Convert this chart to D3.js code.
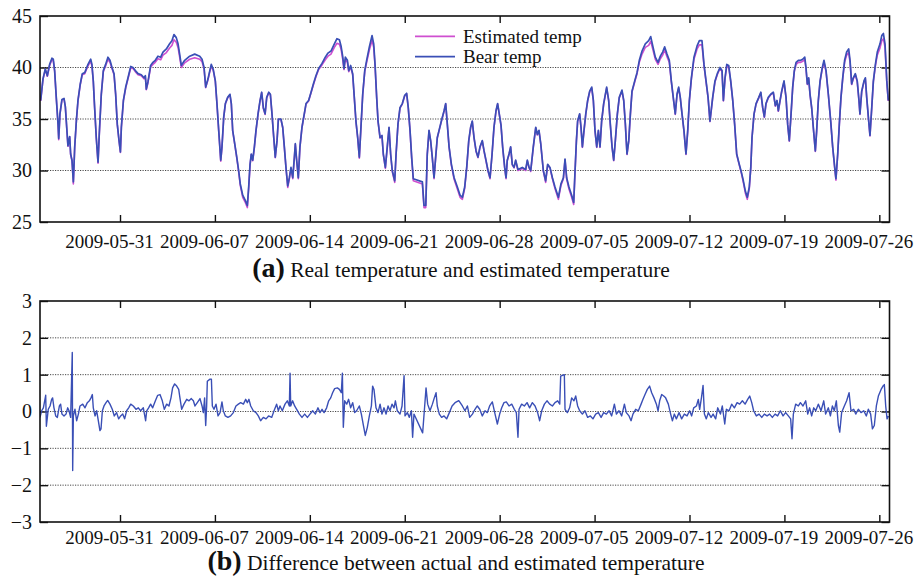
<!DOCTYPE html>
<html>
<head>
<meta charset="utf-8">
<script src="https://cdn.jsdelivr.net/npm/d3@7"></script>
<style>
  body { margin: 0; background: #fff; }
  svg { display: block; font-family: "Liberation Serif", "Times New Roman", Times, "DejaVu Serif", serif; }
  svg text { font-family: "Liberation Serif", "Times New Roman", Times, "DejaVu Serif", serif; fill: #111; }
</style>
</head>
<body>
<svg id="chart" width="919" height="583"></svg>
<script>
// ---- data: time in days since 2009-05-25 00:00 UTC ----
const bearDay = [
  0.15,0.32,0.49,0.64,0.81,0.98,1.08,1.18,1.30,1.43, 1.48,1.57,1.72,1.87,1.97,2.07,2.16,2.29,2.36,2.46,
  2.56,2.66,2.78,2.90,3.07,3.22,3.40,3.64,3.84,3.93, 4.03,4.13,4.25,4.38,4.47,4.62,4.77,4.94,5.11,5.26,
  5.41,5.56,5.68,5.80,5.93,6.03,6.10,6.25,6.42,6.59, 6.79,6.96,7.13,7.33,7.57,7.77,7.87,7.94,8.06,8.26,
  8.43,8.60,8.80,9.00,9.17,9.42,9.66,9.83,9.98,10.15, 10.28,10.40,10.52,10.77,11.14,11.51,11.88,12.05,12.20,12.32,
  12.49,
  12.59,12.73,12.88,13.03,13.15,13.28,13.43,13.52,13.65,13.77, 13.94,14.11,14.21,14.31,14.46,14.61,14.75,14.87,15.05,15.24,
  15.39,15.49,15.59,15.68,15.79,15.91,16.03,16.18,16.33,16.45, 16.57,16.70,16.82,16.97,17.09,17.21,17.34,17.45,17.58,17.68,
  17.87,18.00,18.12,18.24,18.37,18.49,18.61,18.74,18.86,18.93, 19.03,19.15,19.27,19.42,19.59,19.72,19.91,20.09,20.26,20.45,
  20.65,20.90,21.14,21.34,21.56,21.81,22.00,22.18,22.30,22.42, 22.52,22.62,22.77,22.87,23.01,23.16,23.28,23.40,23.53,23.65,
  23.77,23.90,24.05,24.19,24.39,24.59,24.71,24.81,24.93,
  25.03,25.18,25.32,25.42,25.57,25.71,25.84,25.96,26.08,26.26, 26.36,26.50,26.65,26.82,27.00,27.14,27.26,27.39,27.51,27.63,
  28.30,28.42,28.55,28.66,28.79,28.91,29.03,29.16,29.28,29.40, 29.53,29.70,29.90,30.02,30.14,30.27,30.44,30.64,30.88,31.08,
  31.25,31.42,31.57,31.72,31.86,31.98,32.11,32.26,32.40,32.55, 32.72,32.85,32.99,33.14,33.29,33.44,33.58,33.73,33.85,33.97,
  34.10,34.22,34.37,34.47,34.56,34.69,34.81,34.93,35.06,35.18, 35.35,35.67,35.92,36.04,36.17,36.29,36.48,36.66,36.78,36.90,
  37.03,
  37.22,37.39,37.54,37.71,37.89,38.08,38.33,38.52,38.70,38.82, 38.94,39.11,39.31,39.46,39.55,39.66,39.75,39.90,40.00,40.10,
  40.22,40.35,40.49,40.64,40.79,40.91,41.03,41.16,41.28,41.40, 41.52,41.67,41.89,42.04,42.16,42.29,42.41,42.53,42.68,42.82,
  43.02,43.15,43.27,43.39,43.52,43.64,43.76,43.96,44.13,44.30, 44.50,44.74,44.99,45.14,45.29,45.48,45.68,45.85,46.02,46.17,
  46.34,46.51,46.66,46.83,46.95,47.08,47.20,47.32,47.45,47.59, 47.74,47.87,47.99,48.14,48.33,48.56,48.73,48.92,49.07,49.22,
  49.37,49.51,
  49.71,49.88,50.05,50.25,50.40,50.50,50.62,50.75,50.89,51.04, 51.19,51.33,51.48,51.67,51.85,51.97,52.12,52.26,52.41,52.52,
  52.61,52.76,52.91,53.11,53.26,53.40,53.52,53.64,53.81,53.99, 54.18,54.33,54.45,54.55,54.68,54.80,54.97,55.12,55.24,55.36,
  55.49,55.61,55.73,55.86,56.03,56.20,56.35,56.50,56.59,56.69, 56.79,56.89,57.01,57.13,57.28,57.38,57.50,57.63,57.78,57.92,
  58.07,58.24,58.42,58.56,58.71,58.80,58.93,59.05,59.17,59.30, 59.44,59.59,59.74,59.84,59.96,60.08,60.23,60.37,60.50,60.57,
  60.70,60.87,60.97,61.07,61.19,61.31,61.44,61.56,61.71,61.85, 62.05,62.18,62.30,62.42,62.55,62.66
];

// measured body temperature of the bear (°C)
const bearTemp = [
  36.8,38.9,39.85,39.2,40.3,40.9,40.8,39.7,37.1,34.5, 33.1,35.5,36.9,37.0,36.2,34.2,32.4,33.3,31.6,31.0,
  28.9,32.3,34.8,36.8,38.4,39.4,39.5,40.3,40.8,40.3, 38.7,36.1,33.2,30.8,33.5,37.4,39.7,40.3,41.0,40.7,
  40.0,39.4,37.4,34.5,32.9,31.8,34.2,36.8,38.1,39.0, 40.1,40.0,39.7,39.4,39.3,39.0,39.2,37.9,38.6,40.2,
  40.5,40.7,41.1,41.0,41.5,41.8,42.3,42.6,43.2,42.9, 42.3,41.3,40.2,40.7,41.1,41.3,41.1,40.8,40.0,38.1,
  38.9,
  39.5,40.3,39.8,38.7,36.5,33.9,31.0,32.3,35.2,36.5, 37.1,37.4,36.5,33.9,32.6,31.3,30.0,28.7,27.6,27.1,
  26.6,28.4,30.6,31.6,31.0,32.3,33.9,35.5,36.8,37.6, 36.1,35.5,37.1,37.6,37.4,35.5,33.2,31.3,32.9,35.0,
  35.0,34.2,32.3,30.3,28.5,29.3,30.3,29.3,31.3,32.6, 31.0,29.3,32.3,34.2,35.5,36.5,36.8,37.6,38.4,39.2,
  39.9,40.4,41.0,41.4,41.6,42.3,42.8,42.7,42.1,41.1, 39.9,41.0,40.7,39.7,40.2,39.4,37.1,34.8,33.2,31.3,
  34.2,37.4,39.7,40.7,42.0,43.1,42.3,40.3,37.1,
  34.8,33.2,33.4,31.6,30.3,32.3,34.2,31.6,30.0,29.0, 31.6,34.5,36.1,36.5,37.3,37.5,36.1,33.9,31.3,29.2,
  28.9,26.6,26.6,31.6,33.9,32.9,31.3,29.3,31.3,33.2, 33.9,34.8,35.8,36.5,34.5,32.3,30.6,29.3,28.4,27.6,
  27.4,28.4,30.3,32.9,34.2,34.8,33.2,31.9,31.3,32.3, 32.9,31.9,31.0,30.0,29.3,31.6,34.2,35.8,36.5,35.5,
  34.4,32.3,30.3,29.3,31.0,31.6,32.3,30.6,30.3,31.0, 30.1,30.3,30.1,31.0,30.3,30.0,32.3,34.2,33.5,33.9,
  32.6,
  30.0,29.0,30.6,30.3,29.3,28.4,27.4,28.7,29.3,31.1, 29.3,28.4,27.6,26.9,29.7,32.9,34.8,35.5,34.2,32.3,
  33.9,35.5,36.8,37.7,38.1,36.8,33.9,32.3,33.9,32.3, 34.8,36.5,38.1,36.8,34.5,32.3,31.0,32.9,35.5,37.1,
  37.8,36.8,34.5,31.6,32.9,35.5,37.7,38.7,39.5,40.7, 41.6,42.3,42.6,43.0,42.1,41.0,40.5,41.1,41.5,42.0,
  41.3,40.7,38.7,36.8,35.5,37.4,38.1,37.1,35.5,33.9, 31.6,33.9,36.8,39.0,41.0,42.1,42.6,42.6,40.3,38.7,
  37.1,34.8,
  37.1,38.7,39.4,40.0,39.7,36.8,39.0,40.3,40.2,38.7, 36.8,34.5,31.6,30.6,29.7,29.0,28.0,27.4,28.4,30.3,
  33.2,35.5,36.5,37.1,37.6,36.1,35.2,36.5,37.1,37.4, 37.6,36.3,36.8,35.8,36.8,37.7,38.7,37.1,34.5,32.9,
  35.5,38.1,39.7,40.5,40.7,40.7,40.8,41.0,40.0,38.4, 39.0,37.4,36.1,34.2,31.9,33.9,36.8,38.7,39.9,40.7,
  39.7,37.4,34.7,32.3,30.3,29.2,31.6,34.5,37.1,39.0, 40.7,41.5,41.8,40.7,38.4,39.0,39.4,38.7,36.8,35.5,
  37.7,38.7,39.0,37.1,35.2,33.4,36.1,38.7,40.3,41.5, 42.3,43.1,43.3,42.3,38.7,36.8
];

// model estimate at the same instants (°C)
const estTemp = [
  36.75,38.85,39.8,39.15,40.2,40.75,40.65,39.65,37.05,34.45, 33.0,35.45,36.85,36.95,36.15,34.15,32.35,33.25,31.55,30.95,
  28.7,32.25,34.75,36.75,38.35,39.3,39.4,40.15,40.6,40.15, 38.65,36.05,33.15,30.7,33.45,37.35,39.6,40.15,40.8,40.5,
  39.9,39.3,37.35,34.45,32.85,31.75,34.15,36.75,38.0,38.9, 39.95,39.9,39.6,39.3,39.2,38.9,39.1,37.85,38.5,40.05,
  40.3,40.5,40.85,40.75,41.2,41.45,41.9,42.15,42.7,42.45, 41.95,41.0,40.0,40.45,40.8,40.95,40.8,40.55,39.85,38.05,
  38.8,
  39.4,40.15,39.7,38.65,36.45,33.85,30.9,32.25,35.15,36.45, 37.05,37.35,36.45,33.85,32.55,31.25,29.9,28.55,27.4,26.9,
  26.4,28.25,30.5,31.55,30.95,32.25,33.85,35.45,36.75,37.55, 36.05,35.45,37.05,37.55,37.35,35.45,33.15,31.25,32.85,34.95,
  34.95,34.15,32.25,30.25,28.35,29.2,30.2,29.2,31.25,32.55, 30.95,29.2,32.25,34.15,35.45,36.45,36.75,37.55,38.3,39.1,
  39.8,40.25,40.75,41.1,41.3,41.95,42.35,42.25,41.8,40.85, 39.8,40.8,40.5,39.6,40.05,39.3,37.05,34.75,33.15,31.2,
  34.15,37.35,39.6,40.5,41.7,42.65,41.95,40.15,37.05,
  34.75,33.15,33.35,31.55,30.2,32.25,34.15,31.55,29.9,28.85, 31.55,34.45,36.05,36.45,37.25,37.45,36.05,33.85,31.2,29.0,
  28.7,26.4,26.4,31.5,33.85,32.85,31.25,29.2,31.25,33.15, 33.85,34.75,35.75,36.45,34.45,32.25,30.5,29.15,28.2,27.4,
  27.2,28.25,30.25,32.85,34.15,34.75,33.15,31.85,31.25,32.25, 32.85,31.85,30.95,29.95,29.2,31.55,34.15,35.75,36.45,35.45,
  34.35,32.25,30.25,29.2,30.95,31.55,32.25,30.55,30.25,30.95, 30.0,30.2,30.0,30.95,30.25,29.9,32.25,34.15,33.45,33.85,
  32.55,
  29.95,28.85,30.55,30.25,29.2,28.25,27.2,28.55,29.2,31.05, 29.2,28.2,27.4,26.7,29.6,32.85,34.75,35.45,34.15,32.25,
  33.85,35.45,36.75,37.65,38.0,36.75,33.85,32.25,33.85,32.25, 34.75,36.45,38.0,36.75,34.45,32.25,30.95,32.85,35.45,37.05,
  37.7,36.75,34.45,31.55,32.85,35.45,37.65,38.6,39.4,40.5, 41.3,41.95,42.15,42.55,41.8,40.8,40.3,40.85,41.2,41.7,
  41.05,40.5,38.6,36.75,35.45,37.35,38.0,37.05,35.45,33.85, 31.55,33.85,36.75,38.9,40.8,41.8,42.2,42.2,40.15,38.6,
  37.05,34.75,
  37.05,38.6,39.3,39.9,39.6,36.75,38.9,40.15,40.05,38.6, 36.75,34.45,31.55,30.55,29.6,28.85,27.8,27.2,28.25,30.25,
  33.15,35.45,36.45,37.05,37.55,36.05,35.15,36.45,37.05,37.35, 37.55,36.25,36.75,35.75,36.75,37.65,38.6,37.05,34.45,32.85,
  35.45,38.0,39.6,40.3,40.5,40.5,40.6,40.8,39.9,38.35, 38.9,37.35,36.05,34.15,31.85,33.85,36.75,38.6,39.8,40.5,
  39.6,37.35,34.65,32.25,30.2,29.05,31.55,34.45,37.05,38.9, 40.5,41.2,41.45,40.5,38.35,38.9,39.3,38.6,36.75,35.45,
  37.65,38.6,38.9,37.05,35.15,33.35,36.05,38.6,40.15,41.2, 41.9,42.6,42.8,41.95,38.6,36.75
];

// actual minus estimated (°C), on its own time grid
const diffDay = [
  0.10,0.22,0.35,0.52,0.57,0.71,0.84,0.96,1.03,1.13, 1.26,1.38,1.53,1.62,1.72,1.87,2.02,2.14,2.24,2.36,
  2.48,2.51,2.56,2.68,2.80,2.93,3.05,3.25,3.42,3.59, 3.74,3.86,3.96,4.03,4.16,4.28,4.40,4.52,4.60,4.70,
  4.82,4.97,5.09,5.26,5.43,5.58,5.75,5.90,6.05,6.20, 6.34,6.49,6.64,6.79,6.98,7.18,7.35,7.52,7.72,7.89,
  7.97,8.11,8.26,8.41,8.61,8.78,8.95,9.12,9.27,9.44, 9.61,9.76,9.88,10.03,10.18,10.33,10.42,10.55,10.72,10.92,
  11.09,11.26,11.41,11.53,11.70,11.90,12.05,12.15,12.24,12.32, 12.39,12.44,12.64,12.74,12.81,12.93,13.08,13.23,13.38,13.52,
  13.62,13.77,13.96,14.16,14.36,14.55,14.73,14.90,15.10,15.27, 15.39,15.51,15.64,15.83,16.03,16.20,16.37,16.57,16.77,16.96,
  17.19,17.36,17.55,17.68,17.80,17.97,18.17,18.34,18.49,18.54, 18.59,18.73,18.88,19.03,19.23,19.42,19.62,19.82,20.01,20.21,
  20.41,20.60,20.75,20.90,21.05,21.24,21.39,21.54,21.68,21.83, 22.03,22.18,22.32,22.40,22.47,22.57,22.72,22.86,23.01,23.16,
  23.31,23.45,23.65,23.80,23.95,24.09,24.24,24.39,24.54,24.63, 24.73,24.88,25.03,25.18,25.32,25.47,25.62,25.77,25.91,26.06,
  26.21,26.31,26.45,26.65,26.80,26.95,27.02,27.19,27.34,27.49, 27.58,27.68,28.32,28.47,28.57,28.69,28.86,29.04,29.18,29.31,
  29.40,29.55,29.72,29.90,30.09,30.29,30.49,30.71,30.95,
  31.00,31.25,31.44,31.62,31.79,31.99,32.18,32.35,32.53,32.72, 32.92,33.09,33.26,33.46,33.66,33.83,34.00,34.15,34.32,34.49,
  34.69,34.89,35.08,35.23,35.35,35.43,35.62,35.82,36.02,36.21, 36.41,36.61,36.80,36.95,37.10,37.30,37.49,37.69,37.89,38.08,
  38.28,38.43,38.50,38.77,38.82,38.99,39.16,39.31,39.48,39.61, 39.75,39.90,40.10,40.29,40.49,40.69,40.88,41.08,41.28,41.48,
  41.67,41.87,42.07,42.26,42.46,42.61,42.80,43.00,43.20,43.34, 43.54,43.69,43.83,44.03,44.23,44.43,44.57,44.72,44.89,45.06,
  45.21,45.38,45.56,45.68,45.80,45.95,46.10,46.24,46.44,46.61, 46.74,46.88,47.03,47.23,47.42,47.62,47.82,48.01,48.16,48.31,
  48.51,48.65,48.75,48.88,49.00,49.10,49.24,49.39,49.59,49.74, 49.93,50.08,50.28,50.42,50.60,50.72,50.92,51.11,51.31,51.51,
  51.70,51.90,52.10,52.29,52.44,52.59,52.73,52.93,53.13,53.33, 53.52,53.72,53.91,54.11,54.31,54.50,54.70,54.90,55.09,55.29,
  55.46,55.56,55.66,55.83,56.03,56.18,56.37,56.57,56.72,56.86, 57.01,57.16,57.31,57.50,57.70,57.90,58.04,58.24,58.39,58.54,
  58.68,58.83,58.98,59.08,59.22,59.42,59.59,59.77,59.91,60.11, 60.26,60.45,60.65,60.85,61.04,61.19,61.36,61.49,61.63,61.78,
  61.93,62.13,62.27,62.37,62.47,62.57,62.67
];
const diffValue = [
  -0.16,0.02,0.10,0.44,-0.40,0.06,0.15,0.33,0.37,0.10, -0.12,-0.16,0.15,0.20,-0.07,-0.12,-0.07,0.10,0.02,-0.16,
  1.60,-1.60,-0.12,0.06,-0.25,-0.07,0.15,0.20,0.10,0.24, 0.29,0.37,0.46,0.10,-0.12,0.02,-0.25,-0.52,-0.47,0.02,
  0.15,0.24,0.30,0.20,0.06,-0.12,-0.03,-0.20,-0.12,-0.07, -0.20,0.02,0.10,0.20,0.15,0.06,0.10,0.02,0.10,-0.25,
  0.02,0.10,0.20,0.10,0.29,0.44,0.46,0.29,0.06,0.20, 0.15,0.37,0.64,0.75,0.69,0.60,0.37,0.06,0.20,0.33,
  0.29,0.35,0.29,0.15,0.24,0.35,0.15,-0.03,0.37,-0.38, 0.15,0.82,0.88,0.88,0.15,0.06,0.20,-0.12,-0.03,0.26,
  0.02,-0.12,-0.16,-0.12,-0.03,0.15,0.20,0.24,0.20,0.33, 0.24,0.33,0.15,0.02,-0.03,-0.12,-0.25,-0.16,-0.20,-0.12,
  -0.16,0.02,0.20,0.02,0.15,0.02,0.20,0.29,0.15,1.04, 0.15,0.29,0.15,0.06,-0.07,-0.16,-0.07,-0.16,-0.07,0.02,
  -0.07,0.10,-0.03,0.06,-0.03,0.10,0.29,0.37,0.51,0.62, 0.64,0.60,0.51,1.04,-0.43,0.29,0.20,0.33,0.10,0.24,
  -0.03,0.02,0.15,-0.07,-0.38,-0.65,-0.43,-0.12,0.15,0.69, 0.60,0.10,-0.03,0.20,-0.07,0.10,-0.07,0.15,0.02,0.20,
  0.10,0.29,0.02,-0.07,0.15,0.97,-0.12,-0.03,-0.16,0.02, -0.70,-0.07,-0.58,0.15,0.64,0.20,0.02,0.20,0.37,0.51,
  0.15,-0.07,-0.16,-0.12,-0.20,-0.03,0.15,0.24,0.29,
  0.29,0.15,0.02,0.15,-0.16,-0.07,0.06,0.15,0.06,-0.12, 0.02,-0.03,0.15,0.26,-0.07,-0.34,-0.07,0.10,0.24,0.26,
  0.15,0.20,0.06,-0.03,-0.70,0.06,0.20,0.15,0.24,0.10, 0.24,0.15,-0.03,-0.25,0.02,0.20,0.29,0.20,0.15,0.24,
  0.29,0.20,0.96,1.00,0.06,-0.03,0.10,0.37,0.29,0.42, 0.15,0.02,-0.07,0.02,-0.16,-0.12,-0.20,-0.07,-0.03,-0.16,
  -0.03,-0.07,0.02,-0.12,0.20,-0.07,0.02,-0.12,0.20,-0.03, -0.12,-0.25,-0.07,0.06,0.02,0.20,0.33,0.46,0.60,0.69,
  0.51,0.37,0.20,0.02,0.29,0.46,0.42,0.37,0.20,-0.07, -0.25,-0.07,-0.20,-0.03,-0.20,-0.07,-0.12,0.02,-0.12,0.10,
  0.15,0.33,0.06,0.37,0.71,-0.07,-0.20,-0.03,-0.16,-0.07, -0.20,0.10,-0.07,0.15,-0.34,0.06,0.02,0.20,0.10,0.24,
  0.20,0.29,0.20,0.33,0.42,0.24,0.02,-0.12,-0.07,-0.16, -0.07,-0.12,-0.07,-0.16,-0.07,-0.12,0.02,-0.12,-0.03,-0.12,
  -0.20,-0.74,-0.07,0.20,0.15,0.24,0.15,0.29,-0.07,0.10, -0.12,0.10,0.02,0.20,0.02,0.29,-0.07,0.10,-0.12,0.15,
  0.02,0.29,-0.38,-0.56,-0.03,0.15,0.29,0.51,0.02,0.06, -0.07,0.06,-0.03,0.02,-0.12,0.06,-0.07,-0.47,-0.38,0.15,
  0.42,0.60,0.69,0.73,0.15,-0.20,-0.12
];

const tempTicks = [25, 30, 35, 40, 45];
const diffTicks = [-3, -2, -1, 0, 1, 2, 3];
const seriesNames = ["Estimated temp", "Bear temp"];
const captionA = ["(a)", " Real temperature and estimated temperature"];
const captionB = ["(b)", " Difference between actual and estimated temperature"];

// ---- layout ----
const SERIF = '"Liberation Serif", "Times New Roman", Times, "DejaVu Serif", serif';
const BLUE = "#3a4fb6", MAGENTA = "#cf4fd0";
const plotL = 40, plotR = 889.5;
const start = Date.UTC(2009, 4, 25);
const toDate = d => new Date(start + d * 864e5);
const x = d3.scaleUtc().domain([toDate(0.1), toDate(62.75)]).range([plotL, plotR]);
const weekTicks = d3.utcWeek.range(x.domain()[0], x.domain()[1]);
const fmt = d3.utcFormat("%Y-%m-%d");

const svg = d3.select("#chart");

const bear = bearDay.map((d, i) => ({ t: toDate(d), v: bearTemp[i] }));
const est = bearDay.map((d, i) => ({ t: toDate(d), v: estTemp[i] }));
const diff = diffDay.map((d, i) => ({ t: toDate(d), v: diffValue[i] }));

function styleAxis(sel) {
  sel.attr("font-family", SERIF);
  sel.select(".domain").remove();
  sel.selectAll(".tick line").attr("stroke", "#111").attr("stroke-width", 1.4);
  sel.selectAll(".tick text").attr("fill", "#111").style("font-family", SERIF);
}

function panel(id, top, bottom, domain, ticks, labelGap) {
  const y = d3.scaleLinear().domain(domain).range([bottom, top]);
  const g = svg.append("g");

  g.append("clipPath").attr("id", id)
    .append("rect").attr("x", plotL).attr("y", top)
    .attr("width", plotR - plotL).attr("height", bottom - top);

  // dotted horizontal grid
  g.append("g").selectAll("line")
    .data(ticks.filter(t => t > domain[0] && t < domain[1]))
    .join("line")
    .attr("x1", plotL).attr("x2", plotR)
    .attr("y1", d => y(d)).attr("y2", d => y(d))
    .attr("stroke", "#333").attr("stroke-width", 0.9)
    .attr("stroke-dasharray", "1.2,1.3");

  // bottom axis with inward ticks and date labels
  const xb = g.append("g").attr("transform", `translate(0,${bottom})`)
    .call(d3.axisBottom(x).tickValues(weekTicks).tickSizeInner(-7).tickSizeOuter(0).tickFormat(fmt));
  styleAxis(xb);
  xb.selectAll(".tick text")
    .attr("y", labelGap).attr("dy", null).attr("dx", -11)
    .style("font-size", "19px");

  const xt = g.append("g").attr("transform", `translate(0,${top})`)
    .call(d3.axisTop(x).tickValues(weekTicks).tickSizeInner(-7).tickSizeOuter(0).tickFormat(""));
  styleAxis(xt);

  // left axis labels, inward ticks on both sides
  const yl = g.append("g").attr("transform", `translate(${plotL},0)`)
    .call(d3.axisLeft(y).tickValues(ticks).tickSizeInner(-8).tickSizeOuter(0).tickPadding(8).tickFormat(d3.format("d")));
  styleAxis(yl);
  yl.selectAll(".tick text").style("font-size", "20px");

  const yr = g.append("g").attr("transform", `translate(${plotR},0)`)
    .call(d3.axisRight(y).tickValues(ticks).tickSizeInner(-8).tickSizeOuter(0).tickFormat(""));
  styleAxis(yr);

  const plot = g.append("g").attr("clip-path", `url(#${id})`);
  return { g, y, plot, top, bottom };
}

function frame(p) {
  p.g.append("rect")
    .attr("x", plotL).attr("y", p.top)
    .attr("width", plotR - plotL).attr("height", p.bottom - p.top)
    .attr("fill", "none").attr("stroke", "#111").attr("stroke-width", 1.6);
}

function caption(parts, cx, baseline) {
  const t = svg.append("text").attr("x", cx).attr("y", baseline)
    .attr("text-anchor", "middle").style("font-family", SERIF);
  t.append("tspan").text(parts[0]).style("font-weight", "bold").style("font-size", "28px");
  t.append("tspan").text(parts[1]).style("font-size", "21.5px");
}

// ---- panel (a): temperatures ----
const pA = panel("clipA", 16, 222, [25, 45], tempTicks, 26);
const lineA = d3.line().x(d => x(d.t)).y(d => pA.y(d.v));
pA.plot.append("path").datum(est).attr("d", lineA)
  .attr("fill", "none").attr("stroke", MAGENTA).attr("stroke-width", 1.6).attr("stroke-linejoin", "round");
pA.plot.append("path").datum(bear).attr("d", lineA)
  .attr("fill", "none").attr("stroke", BLUE).attr("stroke-width", 1.7).attr("stroke-linejoin", "round");
frame(pA);

// legend
const legend = svg.append("g");
[MAGENTA, BLUE].forEach((c, i) => {
  const yy = 36.4 + i * 20.2;
  legend.append("line").attr("x1", 415).attr("x2", 455).attr("y1", yy).attr("y2", yy)
    .attr("stroke", c).attr("stroke-width", 1.6);
  legend.append("text").attr("x", 463).attr("y", yy + 6.5)
    .style("font-family", SERIF).style("font-size", "19px").text(seriesNames[i]);
});

caption(captionA, 461, 277);

// ---- panel (b): difference ----
const pB = panel("clipB", 301, 522, [-3, 3], diffTicks, 22);
const lineB = d3.line().x(d => x(d.t)).y(d => pB.y(d.v));
pB.plot.append("path").datum(diff).attr("d", lineB)
  .attr("fill", "none").attr("stroke", BLUE).attr("stroke-width", 1.4).attr("stroke-linejoin", "round");
frame(pB);

caption(captionB, 456, 570);
</script>
</body>
</html>
